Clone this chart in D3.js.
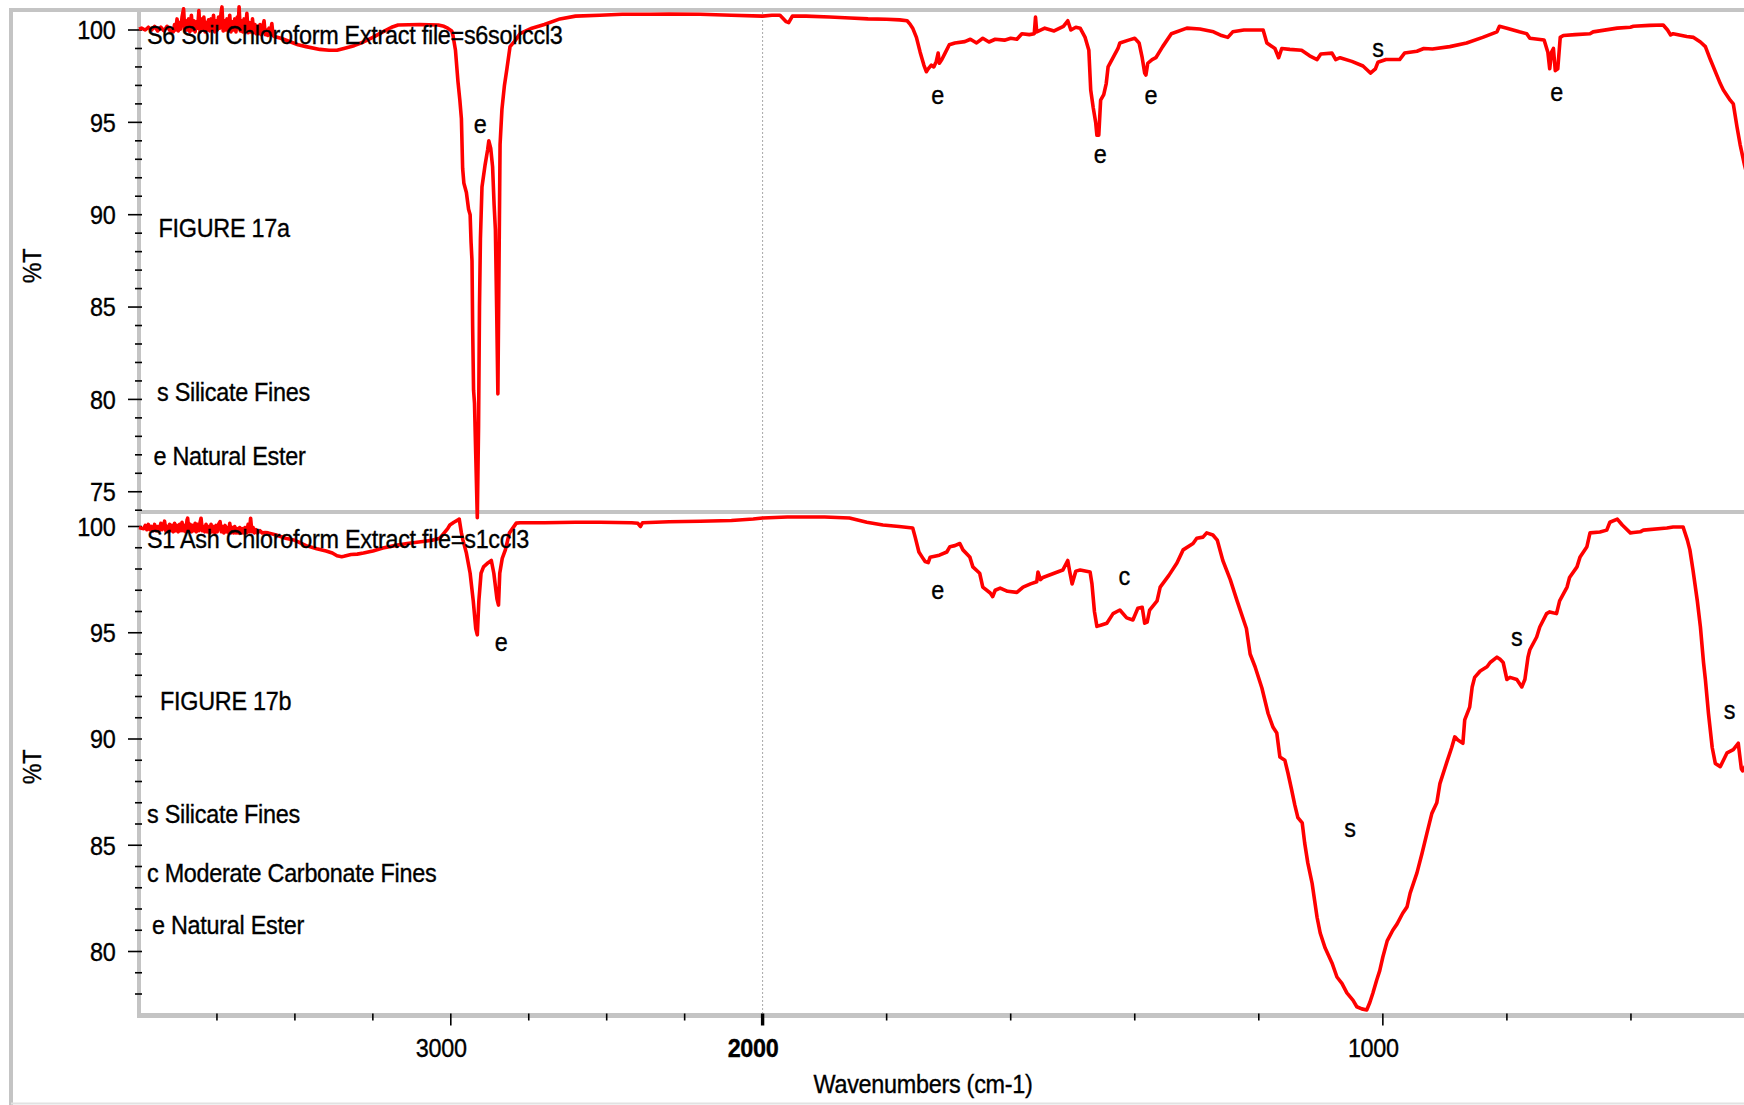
<!DOCTYPE html>
<html>
<head>
<meta charset="utf-8">
<script src="https://cdn.jsdelivr.net/npm/d3@7"></script>
<style>
  html, body { margin: 0; padding: 0; background: #ffffff; }
  svg { display: block; }
  text { font-family: "Liberation Sans", Arial, Helvetica, sans-serif; font-size: 26px; fill: #000;
         stroke: #000; stroke-width: 0.35px; letter-spacing: -0.3px; }
</style>
</head>
<body>
<svg id="chart" width="1744" height="1105"></svg>
<script>
// ---------------- Spectra: [wavenumber (cm-1), %T] ----------------
// S6 soil chloroform extract, 4000-2000 cm-1
const s6High = [
  [4000,100.05],[3992,100.1],[3980,100.0],[3970,100.15],[3960,100.0],[3950,100.2],[3940,99.95],[3930,100.15],
  [3920,99.95],[3910,100.2],[3900,99.95],[3890,99.9],[3886,100.3],[3882,100.0],[3878,100.6],[3874,99.95],
  [3870,100.4],[3866,100.05],[3862,100.7],[3857,101.15],[3853,99.95],[3849,100.5],[3845,100.0],[3841,100.6],
  [3837,99.9],[3832,100.8],[3828,100.0],[3824,100.5],[3820,99.9],[3816,100.45],[3812,100.1],[3808,101.05],
  [3804,99.9],[3800,100.6],[3796,100.0],[3792,100.7],[3788,99.9],[3784,100.4],[3780,100.0],[3777,100.55],
  [3773,99.95],[3769,100.6],[3765,100.05],[3761,100.8],[3757,99.9],[3753,100.5],[3749,100.0],[3745,100.7],
  [3741,100.1],[3737,100.9],[3734,101.25],[3730,99.95],[3726,100.5],[3722,100.0],[3718,100.6],[3714,99.95],
  [3709,100.8],[3705,99.9],[3701,100.45],[3697,100.0],[3693,100.6],[3689,99.9],[3685,100.7],[3682,100.2],
  [3679,101.25],[3675,99.95],[3671,100.5],[3667,99.9],[3663,100.6],[3659,100.0],[3654,100.9],[3650,99.85],
  [3646,100.4],[3642,99.9],[3638,100.2],[3636,100.6],[3632,99.85],[3628,100.3],[3624,99.8],[3620,100.2],
  [3616,99.8],[3612,100.3],[3608,99.75],[3604,100.1],[3599,100.5],[3595,99.75],[3591,100.0],[3587,99.7],
  [3583,100.1],[3579,99.75],[3574,100.35],[3570,99.7],[3566,99.65],[3545,99.55],
  [3513,99.35],[3490,99.2],[3464,99.1],[3420,98.95],[3390,98.9],[3365,98.9],[3343,99.0],[3310,99.15],
  [3280,99.35],[3250,99.6],[3218,99.9],[3190,100.15],[3169,100.27],[3100,100.3],[3040,100.27],[3022,100.2],
  [3010,100.1],[2997,99.95],[2993,99.7],[2985,98.9],[2977,97.2],[2971,96.2],[2966,95.2],[2962,92.5],
  [2958,91.7],[2950,91.2],[2943,90.3],[2938,90.0],[2935,88.5],[2932,87.5],[2930,84.0],[2927,80.5],
  [2924,79.8],[2920,77.0],[2915,73.6],[2911,78.5],[2908,85.0],[2905,88.7],[2900,91.5],[2890,92.7],
  [2882,93.5],[2878,94.0],[2872,93.6],[2866,92.6],[2861,90.5],[2857,89.2],[2853,85.0],[2849,80.3],
  [2845,88.0],[2842,93.8],[2836,95.7],[2828,97.0],[2820,97.9],[2810,99.1],[2795,99.4],[2778,99.8],
  [2740,100.1],[2700,100.3],[2650,100.6],[2600,100.75],[2522,100.8],[2450,100.85],[2362,100.85],
  [2300,100.87],[2201,100.85],[2100,100.8],[2000,100.75]
];
// S6 soil chloroform extract, 2000-400 cm-1
const s6Low = [
  [2000,100.75],[1985,100.8],[1972,100.8],[1962,100.45],[1958,100.4],[1952,100.75],[1930,100.75],[1892,100.7],
  [1859,100.65],[1830,100.6],[1800,100.58],[1779,100.55],[1767,100.5],[1762,100.3],[1758,100.1],[1752,99.6],
  [1746,98.8],[1740,98.1],[1736,97.74],[1733,97.9],[1728,98.1],[1724,98.0],[1720,98.3],[1717,98.75],
  [1715,98.2],[1711,98.4],[1705,98.8],[1699,99.2],[1690,99.3],[1674,99.37],[1665,99.5],[1655,99.3],
  [1645,99.55],[1635,99.35],[1625,99.5],[1610,99.45],[1600,99.55],[1590,99.5],[1582,99.8],[1570,99.75],
  [1562,99.8],[1560,100.7],[1558,99.9],[1545,100.1],[1530,99.95],[1515,100.2],[1508,100.5],[1503,100.0],
  [1495,100.15],[1488,100.1],[1480,99.6],[1474,98.9],[1471,96.75],[1467,95.8],[1463,95.0],[1461,94.3],
  [1458,94.3],[1455,96.2],[1450,96.5],[1446,97.1],[1443,98.0],[1435,98.5],[1427,99.0],[1424,99.3],
  [1410,99.45],[1400,99.55],[1393,99.3],[1388,98.5],[1384,97.67],[1382,97.56],[1379,98.2],[1372,98.4],
  [1366,98.5],[1355,99.1],[1341,99.8],[1316,100.1],[1295,100.05],[1273,99.9],[1260,99.7],[1250,99.6],
  [1242,99.9],[1224,100.0],[1193,100.0],[1187,99.3],[1174,99.0],[1168,98.5],[1163,99.0],[1150,98.95],
  [1131,98.9],[1118,98.6],[1106,98.4],[1100,98.7],[1082,98.75],[1076,98.4],[1069,98.5],[1050,98.3],
  [1032,98.05],[1020,97.67],[1012,97.9],[1008,98.25],[995,98.4],[973,98.4],[965,98.75],[945,98.85],
  [934,99.0],[920,98.97],[892,99.1],[865,99.3],[839,99.6],[816,99.9],[812,100.2],[800,100.1],
  [780,99.9],[768,99.8],[763,99.55],[740,99.46],[734,98.8],[731,97.9],[728,98.8],[725,99.0],
  [722,97.8],[718,97.9],[714,99.6],[709,99.7],[690,99.75],[666,99.8],[661,99.9],[622,100.1],
  [601,100.15],[596,100.2],[570,100.25],[548,100.27],[541,100.0],[536,99.73],[532,99.8],[510,99.65],
  [499,99.6],[488,99.35],[480,99.1],[472,98.4],[456,97.1],[451,96.75],[440,96.2],[435,96.0],
  [429,94.75],[424,93.8],[417,92.7],[400,90.5]
];
// S1 ash chloroform extract, 4000-2000 cm-1
const s1High = [
  [4000,99.95],[3992,99.92],[3985,99.9],[3980,100.05],[3975,99.85],[3970,100.1],[3965,99.85],[3960,100.0],
  [3955,99.8],[3950,100.1],[3945,99.8],[3940,100.0],[3935,99.8],[3930,100.15],[3926,99.85],[3922,100.05],
  [3918,100.25],[3914,99.8],[3910,100.0],[3906,99.75],[3902,100.1],[3898,99.8],[3894,100.05],[3890,99.75],
  [3886,100.15],[3882,99.8],[3878,100.05],[3874,99.75],[3870,100.1],[3866,99.8],[3862,100.2],[3858,99.8],
  [3854,100.05],[3850,99.75],[3846,100.3],[3844,100.39],[3840,99.8],[3836,100.1],[3832,99.75],[3828,100.05],
  [3824,99.8],[3820,100.15],[3816,99.75],[3812,100.1],[3808,99.8],[3804,100.2],[3801,100.39],[3797,99.8],
  [3793,100.0],[3789,99.75],[3785,100.1],[3781,99.75],[3777,100.0],[3773,99.7],[3769,100.1],[3765,99.75],
  [3761,100.0],[3757,99.7],[3753,100.05],[3749,99.75],[3745,100.1],[3740,100.23],[3736,99.75],[3732,100.0],
  [3728,99.7],[3724,100.05],[3720,99.75],[3716,99.95],[3712,99.7],[3709,100.15],[3705,99.7],[3701,99.95],
  [3697,99.7],[3693,100.0],[3689,99.7],[3685,99.9],[3681,99.7],[3677,99.95],[3673,99.7],[3669,99.9],
  [3665,99.7],[3660,99.95],[3655,99.7],[3650,100.1],[3646,99.75],[3642,100.39],[3638,99.75],[3634,99.95],
  [3630,99.7],[3625,99.85],[3620,99.7],[3612,99.8],[3605,99.7],[3595,99.72],[3586,99.7],
  [3560,99.6],[3530,99.45],[3500,99.35],[3464,99.1],[3430,98.95],[3400,98.85],[3380,98.75],[3365,98.62],
  [3350,98.58],[3343,98.6],[3320,98.68],[3300,98.7],[3280,98.75],[3250,98.85],[3218,98.99],[3180,99.1],
  [3140,99.2],[3096,99.28],[3060,99.35],[3035,99.45],[3010,99.9],[3003,100.07],[2990,100.2],[2978,100.3],
  [2973,100.35],[2966,99.7],[2961,99.36],[2950,98.75],[2938,97.8],[2928,96.5],[2920,95.2],[2915,94.9],
  [2910,96.5],[2903,97.8],[2895,98.1],[2880,98.3],[2870,98.4],[2862,97.8],[2852,96.6],[2847,96.3],
  [2843,97.8],[2835,98.5],[2825,98.9],[2812,99.7],[2790,100.16],[2778,100.18],[2700,100.18],[2600,100.2],
  [2522,100.2],[2420,100.18],[2400,100.15],[2392,100.0],[2385,100.18],[2300,100.22],[2200,100.25],
  [2100,100.28],[2030,100.35],[2000,100.4]
];
// S1 ash chloroform extract, 2000-400 cm-1
const s1Low = [
  [2000,100.4],[1960,100.45],[1900,100.45],[1860,100.4],[1832,100.2],[1806,100.07],[1780,100.0],[1758,99.93],
  [1754,99.5],[1748,98.8],[1743,98.57],[1738,98.35],[1733,98.3],[1730,98.55],[1715,98.65],[1703,98.8],
  [1698,99.05],[1690,99.1],[1682,99.2],[1677,98.9],[1666,98.57],[1661,98.1],[1650,97.8],[1645,97.15],
  [1633,96.87],[1629,96.7],[1625,97.0],[1617,97.1],[1605,96.95],[1590,96.9],[1580,97.15],[1568,97.3],
  [1558,97.4],[1556,97.86],[1552,97.5],[1548,97.6],[1530,97.8],[1516,97.95],[1508,98.4],[1505,97.9],
  [1501,97.3],[1495,97.9],[1488,97.95],[1472,97.86],[1469,97.3],[1465,96.0],[1461,95.3],[1455,95.35],
  [1445,95.45],[1435,95.9],[1424,96.07],[1413,95.7],[1403,95.6],[1395,96.15],[1388,96.2],[1384,95.45],
  [1380,95.5],[1376,96.07],[1364,96.5],[1359,97.15],[1345,97.7],[1332,98.28],[1322,98.9],[1306,99.2],
  [1300,99.45],[1290,99.5],[1284,99.7],[1274,99.6],[1267,99.36],[1258,98.4],[1246,97.5],[1235,96.5],
  [1220,95.2],[1214,94.0],[1206,93.4],[1195,92.4],[1185,91.2],[1177,90.55],[1171,90.28],[1166,89.15],
  [1158,89.0],[1153,88.4],[1147,87.6],[1142,86.9],[1137,86.3],[1130,86.05],[1126,85.1],[1121,84.17],
  [1114,83.2],[1110,82.4],[1106,81.6],[1101,80.87],[1093,80.16],[1082,79.46],[1074,78.8],[1066,78.5],
  [1058,78.05],[1048,77.7],[1042,77.4],[1034,77.3],[1026,77.25],[1021,77.6],[1016,78.05],[1010,78.65],
  [1005,79.1],[1000,79.74],[993,80.5],[984,81.0],[977,81.3],[968,81.8],[961,82.1],[956,82.75],
  [945,83.7],[937,84.6],[929,85.56],[921,86.5],[913,87.0],[908,87.9],[897,88.9],[889,89.6],
  [884,90.1],[879,89.95],[871,89.8],[868,90.9],[860,91.5],[856,92.45],[852,92.9],[843,93.2],
  [832,93.4],[827,93.6],[816,93.85],[811,93.75],[806,93.6],[800,92.8],[795,92.9],[784,92.8],
  [776,92.45],[771,92.8],[766,93.85],[763,94.2],[752,94.8],[747,95.27],[736,95.9],[731,95.98],
  [720,95.9],[715,96.5],[703,97.15],[699,97.6],[687,98.1],[682,98.57],[671,99.05],[666,99.7],
  [650,99.74],[639,99.83],[634,100.2],[622,100.35],[614,100.07],[601,99.7],[596,99.72],[585,99.75],
  [580,99.83],[542,99.93],[532,99.98],[516,99.98],[509,99.36],[505,98.9],[500,97.95],[493,96.5],
  [488,95.27],[483,93.6],[480,92.8],[475,91.2],[469,89.6],[464,88.85],[456,88.7],[445,89.35],
  [435,89.5],[427,89.8],[422,88.6],[420,88.5],[410,89.0],[400,88.8]
];

// ---------------- Band assignments: [letter, wavenumber, %T at label baseline] ----------------
const s6PeakLabels = [['e',2906,94.42],['e',1718,95.99],['e',1456,92.8],['e',1374,95.99],['s',1008,98.54],['e',720,96.18]];
const s1PeakLabels = [['e',2839,94.12],['e',1718,96.59],['c',1417,97.25],['s',1053,85.41],['s',784,94.4],['s',441,90.94]];

// ---------------- Captions and key ----------------
const s6Title = 'S6 Soil Chloroform Extract file=s6soilccl3';
const s1Title = 'S1 Ash Chloroform Extract file=s1ccl3';
const s6Figure = 'FIGURE 17a';
const s1Figure = 'FIGURE 17b';
const s6Key = ['s Silicate Fines', 'e Natural Ester'];
const s1Key = ['s Silicate Fines', 'c Moderate Carbonate Fines', 'e Natural Ester'];

// ---------------- Tick values ----------------
const xMajorTicks = [3000, 2000, 1000];
const xMajorLabels = ['3000', '2000', '1000'];
const xMinorTicks = [3750, 3500, 3250, 2750, 2500, 2250, 1800, 1600, 1400, 1200, 800, 600];
const yTopMajor = [100, 95, 90, 85, 80, 75];
const yTopMinor = d3.range(74, 100).filter(v => v % 5 !== 0);
const yBotMajor = [100, 95, 90, 85, 80];
const yBotMinor = d3.range(78, 100).filter(v => v % 5 !== 0);

// ---------------- Layout ----------------
const SQUEEZE = 0.9;         // horizontal glyph compression of all labels
const axisX = 139;
const axisBottomY = 1015.5;
const splitY = 512;
const frameTop = 10, frameLeft = 11;
const gray = '#c4c4c4';

const svg = d3.select('#chart');

// x scale is expanded twofold below 2000 cm-1
const x = d3.scaleLinear().domain([4000, 2000, 400]).range([axisX, 762.6, 1755]);
const yTop = d3.scaleLinear().domain([100, 75]).range([30, 491.75]);
const yBot = d3.scaleLinear().domain([100, 80]).range([526.5, 951.5]);

function putText(parent, str, px, py, anchor) {
  return parent.append('text')
    .attr('transform', `translate(${px},${py}) scale(${SQUEEZE},1)`)
    .attr('text-anchor', anchor || 'start')
    .text(str);
}

// frame lines
const frame = svg.append('g');
frame.append('line').attr('x1', frameLeft).attr('x2', frameLeft).attr('y1', frameTop - 2).attr('y2', 1105)
  .attr('stroke', gray).attr('stroke-width', 4);
frame.append('line').attr('x1', frameLeft - 2).attr('x2', 1744).attr('y1', frameTop).attr('y2', frameTop)
  .attr('stroke', gray).attr('stroke-width', 4);
frame.append('line').attr('x1', frameLeft).attr('x2', 1744).attr('y1', 1103.5).attr('y2', 1103.5)
  .attr('stroke', '#e2e2e2').attr('stroke-width', 2);

// dotted grid line at the scale break
svg.append('line')
  .attr('x1', x(2000)).attr('x2', x(2000)).attr('y1', frameTop + 2).attr('y2', axisBottomY - 2)
  .attr('stroke', '#a8a8a8').attr('stroke-width', 1).attr('stroke-dasharray', '2,2');

// axis bars
const bars = svg.append('g');
bars.append('line').attr('x1', axisX).attr('x2', axisX).attr('y1', frameTop).attr('y2', axisBottomY + 2)
  .attr('stroke', gray).attr('stroke-width', 4);
bars.append('line').attr('x1', axisX - 2).attr('x2', 1744).attr('y1', axisBottomY).attr('y2', axisBottomY)
  .attr('stroke', gray).attr('stroke-width', 5);
bars.append('line').attr('x1', axisX).attr('x2', 1744).attr('y1', splitY).attr('y2', splitY)
  .attr('stroke', gray).attr('stroke-width', 4);

// y ticks
function yTicks(scale, majors, minors) {
  const g = svg.append('g');
  g.selectAll('line.maj').data(majors).join('line').attr('class', 'maj')
    .attr('x1', axisX - 11).attr('x2', axisX + 3)
    .attr('y1', d => scale(d)).attr('y2', d => scale(d))
    .attr('stroke', '#000').attr('stroke-width', 1.6);
  g.selectAll('line.min').data(minors).join('line').attr('class', 'min')
    .attr('x1', axisX - 4).attr('x2', axisX + 3)
    .attr('y1', d => scale(d)).attr('y2', d => scale(d))
    .attr('stroke', '#000').attr('stroke-width', 1.6);
  majors.forEach(v => putText(g, String(v), 115.5, scale(v) + 9.3, 'end'));
}
yTicks(yTop, yTopMajor, yTopMinor);
yTicks(yBot, yBotMajor, yBotMinor);

// x ticks
const xg = svg.append('g');
xg.selectAll('line.min').data(xMinorTicks).join('line').attr('class', 'min')
  .attr('x1', d => x(d)).attr('x2', d => x(d))
  .attr('y1', axisBottomY - 2).attr('y2', axisBottomY + 5)
  .attr('stroke', '#000').attr('stroke-width', 1.6);
xg.selectAll('line.maj').data(xMajorTicks).join('line').attr('class', 'maj')
  .attr('x1', d => x(d)).attr('x2', d => x(d))
  .attr('y1', axisBottomY - 2).attr('y2', axisBottomY + 10)
  .attr('stroke', '#000').attr('stroke-width', d => d === 2000 ? 3.4 : 1.6);
xMajorTicks.forEach((v, i) => {
  const t = putText(xg, xMajorLabels[i], x(v) - 9.5, 1056.5, 'middle');
  if (v === 2000) t.attr('font-weight', 'bold');
});
putText(xg, 'Wavenumbers (cm-1)', 923, 1093, 'middle');

// y axis titles
[266, 767].forEach(cy => {
  svg.append('text')
    .attr('transform', `translate(41,${cy}) rotate(-90) scale(${SQUEEZE},1)`)
    .attr('text-anchor', 'middle')
    .text('%T');
});

// spectra
function drawSpectrum(segments, yScale) {
  const line = d3.line().x(d => x(d[0])).y(d => yScale(d[1]));
  const pts = segments[0].concat(segments[1].slice(1));
  svg.append('path').datum(pts)
    .attr('d', line)
    .attr('fill', 'none')
    .attr('stroke', '#ff0000')
    .attr('stroke-width', 3.6)
    .attr('stroke-linejoin', 'round');
}
drawSpectrum([s6High, s6Low], yTop);
drawSpectrum([s1High, s1Low], yBot);

// captions
const cap = svg.append('g');
putText(cap, s6Title, 147, 43.5, 'start');
putText(cap, s1Title, 147, 548, 'start');
putText(cap, s6Figure, 158.5, 236.5, 'start');
putText(cap, s1Figure, 160, 710, 'start');
const s6KeyPos = [[157, 401], [153.5, 465]];
s6Key.forEach((s, i) => putText(cap, s, s6KeyPos[i][0], s6KeyPos[i][1], 'start'));
const s1KeyPos = [[147, 823], [147, 882], [152, 934]];
s1Key.forEach((s, i) => putText(cap, s, s1KeyPos[i][0], s1KeyPos[i][1], 'start'));

// band letters
s6PeakLabels.forEach(d => putText(cap, d[0], x(d[1]), yTop(d[2]), 'middle'));
s1PeakLabels.forEach(d => putText(cap, d[0], x(d[1]), yBot(d[2]), 'middle'));
</script>
</body>
</html>
